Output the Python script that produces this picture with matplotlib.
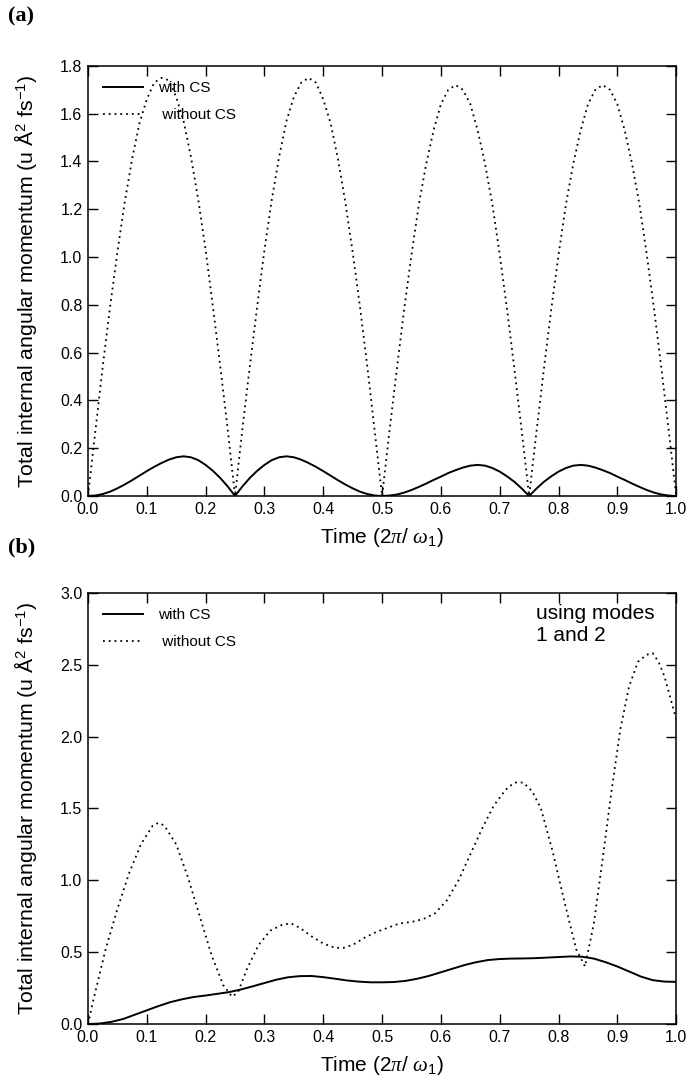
import numpy as np
import matplotlib
matplotlib.use("Agg")
import matplotlib.pyplot as plt

plt.rcParams['font.family'] = ['Liberation Sans', 'DejaVu Sans']
plt.rcParams['mathtext.fontset'] = 'custom'
plt.rcParams['mathtext.rm'] = 'Liberation Sans'
plt.rcParams['mathtext.it'] = 'Liberation Serif:italic'
plt.rcParams['mathtext.bf'] = 'Liberation Sans:bold'

# panel (a): time grid and values
time_a = [i * 0.0125 for i in range(81)]
with_cs_a = [0, .002, .008, .018, .032, .048, .066, .085, .104, .122, .138, .152, .162, .166, .162, .150, .130, .105, .075, .040, 0,
             .040, .075, .105, .130, .150, .162, .166, .162, .152, .138, .122, .104, .085, .066, .048, .032, .018, .008, .002, 0,
             .0016, .006, .014, .025, .038, .052, .067, .081, .096, .108, .119, .127, .130, .127, .117, .102, .082, .059, .031, 0,
             .031, .059, .082, .102, .117, .127, .130, .127, .119, .108, .096, .081, .067, .052, .038, .025, .014, .006, .0016, 0]
without_cs_a = [0, .27, .54, .79, 1.02, 1.23, 1.41, 1.56, 1.66, 1.73, 1.75, 1.74, 1.67, 1.57, 1.42, 1.24, 1.03, .79, .54, .28, 0,
                .28, .54, .79, 1.03, 1.24, 1.42, 1.57, 1.67, 1.73, 1.75, 1.73, 1.66, 1.56, 1.41, 1.23, 1.02, .79, .54, .27, 0,
                .27, .53, .78, 1.01, 1.22, 1.39, 1.53, 1.64, 1.70, 1.72, 1.70, 1.64, 1.53, 1.39, 1.22, 1.01, .78, .53, .27, 0,
                .27, .53, .78, 1.01, 1.22, 1.39, 1.53, 1.64, 1.70, 1.72, 1.70, 1.64, 1.53, 1.39, 1.22, 1.01, .78, .53, .27, 0]

# panel (b)
time_b_with = [0, 0.02, 0.04, 0.06, 0.08, 0.1, 0.12, 0.14, 0.16, 0.18, 0.2, 0.22, 0.24, 0.26, 0.28, 0.3, 0.32, 0.34,
               0.36, 0.38, 0.4, 0.42, 0.44, 0.46, 0.48, 0.5, 0.52, 0.54, 0.56, 0.58, 0.6, 0.62, 0.64, 0.66, 0.68, 0.7,
               0.72, 0.74, 0.76, 0.78, 0.8, 0.82, 0.84, 0.86, 0.88, 0.9, 0.92, 0.94, 0.96, 0.98, 1.0]
with_cs_b = [0, 0.003, 0.015, 0.035, 0.065, 0.095, 0.125, 0.152, 0.172, 0.188, 0.198, 0.21, 0.222, 0.24, 0.262, 0.285,
             0.308, 0.325, 0.333, 0.334, 0.326, 0.315, 0.303, 0.295, 0.29, 0.29, 0.292, 0.3, 0.315, 0.335, 0.36, 0.385,
             0.41, 0.43, 0.445, 0.452, 0.455, 0.456, 0.458, 0.462, 0.466, 0.47, 0.468, 0.455, 0.43, 0.4, 0.365, 0.33,
             0.305, 0.295, 0.293]
time_b_without = [0, 0.01, 0.02, 0.03, 0.05, 0.07, 0.09, 0.11, 0.12, 0.13, 0.15, 0.17, 0.19, 0.21, 0.23, 0.245, 0.255,
                  0.27, 0.29, 0.31, 0.33, 0.345, 0.36, 0.38, 0.40, 0.42, 0.435, 0.45, 0.47, 0.49, 0.51, 0.53, 0.55, 0.57,
                  0.59, 0.61, 0.63, 0.65, 0.67, 0.69, 0.71, 0.725, 0.74, 0.755, 0.77, 0.79, 0.81, 0.83, 0.845, 0.86,
                  0.875, 0.89, 0.905, 0.92, 0.935, 0.95, 0.96, 0.97, 0.98, 0.99, 1.0]
without_cs_b = [0, 0.18, 0.35, 0.52, 0.80, 1.05, 1.25, 1.38, 1.40, 1.38, 1.25, 1.02, 0.75, 0.48, 0.27, 0.19, 0.22, 0.38,
                0.55, 0.65, 0.69, 0.70, 0.67, 0.61, 0.56, 0.53, 0.53, 0.55, 0.60, 0.64, 0.67, 0.70, 0.71, 0.73, 0.77,
                0.86, 1.00, 1.18, 1.36, 1.52, 1.63, 1.68, 1.68, 1.62, 1.50, 1.20, 0.85, 0.52, 0.40, 0.70, 1.15, 1.62,
                2.05, 2.35, 2.52, 2.57, 2.58, 2.52, 2.42, 2.27, 2.12]

xticks = [0.0, 0.1, 0.2, 0.3, 0.4, 0.5, 0.6, 0.7, 0.8, 0.9, 1.0]
yticks_a = [0.0, 0.2, 0.4, 0.6, 0.8, 1.0, 1.2, 1.4, 1.6, 1.8]
yticks_b = [0.0, 0.5, 1.0, 1.5, 2.0, 2.5, 3.0]

ylabel = r'Total internal angular momentum (u $\mathrm{\AA}^{2}$ fs$^{-1}$)'
xlabel = r'Time (2$\pi$/ $\omega_{\mathrm{1}}$)'

fig = plt.figure(figsize=(6.9, 10.86), dpi=100)
ax_a = fig.add_axes([0.1275, 0.5433, 0.8525, 0.396])
ax_b = fig.add_axes([0.1275, 0.0571, 0.8525, 0.397])


def style(ax, yticks, ymax):
    ax.set_xlim(0, 1)
    ax.set_ylim(0, ymax)
    ax.set_xticks(xticks)
    ax.set_xticklabels(["%.1f" % t for t in xticks])
    ax.set_yticks(yticks)
    ax.set_yticklabels(["%.1f" % t for t in yticks])
    ax.tick_params(direction='in', length=7, width=1, top=True, right=True, labelsize=11.5, pad=4)
    for s in ax.spines.values():
        s.set_linewidth(1.1)
    ax.set_xlabel(xlabel, fontsize=15, labelpad=7)
    ax.set_ylabel(ylabel, fontsize=15.3, labelpad=15)


ax_a.plot(time_a, with_cs_a, color='black', lw=1.4, label='with CS')
ax_a.plot(time_a, without_cs_a, color='black', lw=1.3, ls=(0, (1, 2.2)), label=' without CS')
style(ax_a, yticks_a, 1.8)
ax_a.legend(loc='upper left', frameon=False, fontsize=11, handlelength=2.6, handletextpad=1.0,
            borderaxespad=0.6, labelspacing=0.85)

ax_b.plot(time_b_with, with_cs_b, color='black', lw=1.4, label='with CS')
ax_b.plot(time_b_without, without_cs_b, color='black', lw=1.3, ls=(0, (1, 2.2)), label=' without CS')
style(ax_b, yticks_b, 3.0)
ax_b.legend(loc='upper left', frameon=False, fontsize=11, handlelength=2.6, handletextpad=1.0,
            borderaxespad=0.6, labelspacing=0.85)
ax_b.text(0.762, 0.975, 'using modes\n1 and 2', transform=ax_b.transAxes, fontsize=15,
          va='top', ha='left', linespacing=1.2)

fig.text(0.012, 0.994, '(a)', family='Liberation Serif', weight='bold', fontsize=16, va='top')
fig.text(0.012, 0.505, '(b)', family='Liberation Serif', weight='bold', fontsize=16, va='top')

fig.savefig('out.png', dpi=100)
